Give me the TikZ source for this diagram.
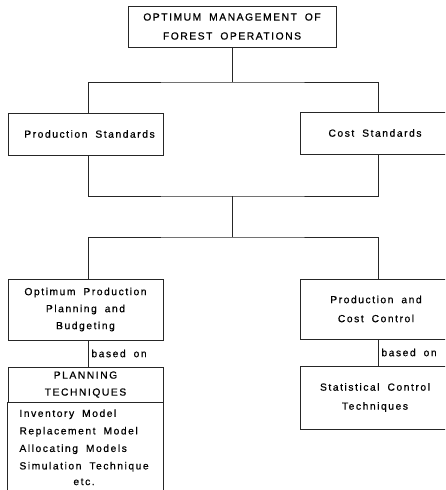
\documentclass[tikz,border=0pt]{standalone}
\usepackage{fontspec}
\setmainfont{Liberation Sans}[LetterSpace=15,WordSpace=1.8,FakeBold=0.7]
\usetikzlibrary{positioning}

\begin{document}
\begin{tikzpicture}[x=1pt, y=-1pt, font=\fontsize{10.3}{17}\selectfont, line width=0.9pt, draw=black!85]
    % Draw a rectangle node
    \tikzstyle{topbox}  = [rectangle, minimum width = 208pt, minimum height = 41pt, align = center, draw = black!85]
    \tikzstyle{stdbox}  = [rectangle, minimum width = 155pt, minimum height = 42pt, align = center, draw = black!85]
    \tikzstyle{tallbox} = [rectangle, minimum width = 155pt, minimum height = 61pt, align = center, draw = black!85]
    \tikzstyle{labels}  = [inner sep = 3pt]

    \useasboundingbox (0,0) rectangle (445,490);
    \clip (0,0) rectangle (445,490);

    \node[topbox]  (mgmt)     at (232,26.5)  {OPTIMUM MANAGEMENT OF\\[2pt]FOREST OPERATIONS};
    \node[stdbox]  (prodstd)  at (85.5,134)  {\hspace*{8pt}Production Standards};
    \node[stdbox, minimum width = 150pt] (coststd) at (375,133) {Cost Standards};
    \node[tallbox] (planning) at (85.5,309.5) {Optimum Production\\Planning and\\Budgeting};
    \node[tallbox, minimum width = 152pt, minimum height = 60pt] (control) at (376,309) {Production and\\[2pt]Cost Control};
    \node[stdbox, minimum height = 35pt, inner sep = 1pt] (plantech) at (85.5,384.5) {PLANNING\\TECHNIQUES};
    \node[stdbox, minimum width = 150pt, minimum height = 63pt] (statctrl) at (375,397.5) {Statistical Control\\[2pt]Techniques};
    \node[anchor = north west, align = left, inner sep = 0pt, font = \fontsize{10.3}{17.5}\selectfont] (plantlist) at (19,409) {Inventory Model\\Replacement Model\\Allocating Models\\Simulation Technique};
    \node[below = 6pt of plantlist.south, inner sep = 0pt] (etc) {etc.};

    \coordinate (colL)   at (88,0);
    \coordinate (colR)   at (378,0);
    \coordinate (topbar) at (232,82);
    \coordinate (midbar) at (232,196);
    \coordinate (lowbar) at (232,237);
    \coordinate (bottom) at (0,495);

    \draw (mgmt) -- (topbar);
    \draw (prodstd.north -| colL) |- (topbar) -| (coststd.north -| colR);
    \draw (prodstd.south -| colL) |- (midbar) -| (coststd.south -| colR);
    \draw (midbar) -- (lowbar);
    \draw (planning.north -| colL) |- (lowbar) -| (control.north -| colR);

    \draw (planning.south -| colL) -- (plantech.north -| colL) node[labels, midway, right] {based on};
    \draw (control.south -| colR) -- (statctrl.north -| colR) node[labels, midway, right] {based on};

    \draw (plantech.south west) -- (plantech.south west |- bottom);
    \draw (plantech.south east) -- (plantech.south east |- bottom);
  \end{tikzpicture}
\end{document}
